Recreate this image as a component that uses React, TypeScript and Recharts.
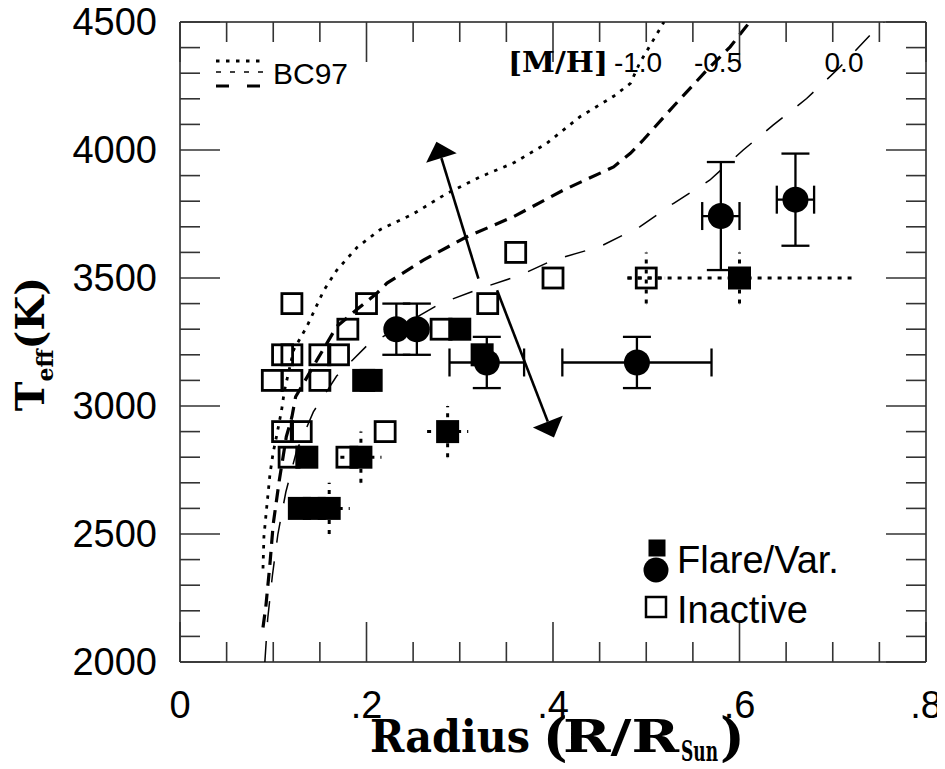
import { ScatterChart, Scatter, XAxis, YAxis, ErrorBar, ReferenceLine } from 'recharts';

// axis ticks
const xTicks = [0, 0.05, 0.1, 0.15, 0.2, 0.25, 0.3, 0.35, 0.4, 0.45, 0.5, 0.55, 0.6, 0.65, 0.7, 0.75, 0.8];
const xMajorTicks = [0, 0.2, 0.4, 0.6, 0.8];
const xTickLabels = ['0', '.2', '.4', '.6', '.8'];
const yTicks = [
  2000, 2100, 2200, 2300, 2400, 2500, 2600, 2700, 2800, 2900, 3000, 3100, 3200,
  3300, 3400, 3500, 3600, 3700, 3800, 3900, 4000, 4100, 4200, 4300, 4400, 4500,
];
const yMajorTicks = [2000, 2500, 3000, 3500, 4000, 4500];
const yTickLabels = ['2000', '2500', '3000', '3500', '4000', '4500'];

// BC97 isochrones, [M/H] = -1.0, -0.5, 0.0
const bc97Minus10 = [
  { x: 0.089, y: 2365 }, { x: 0.09, y: 2490 }, { x: 0.093, y: 2605 }, { x: 0.0965, y: 2735 },
  { x: 0.1, y: 2820 }, { x: 0.104, y: 2890 }, { x: 0.109, y: 2985 }, { x: 0.112, y: 3060 },
  { x: 0.122, y: 3220 }, { x: 0.136, y: 3310 }, { x: 0.154, y: 3450 }, { x: 0.168, y: 3530 },
  { x: 0.19, y: 3620 }, { x: 0.215, y: 3690 }, { x: 0.25, y: 3750 }, { x: 0.286, y: 3830 },
  { x: 0.322, y: 3895 }, { x: 0.358, y: 3950 }, { x: 0.393, y: 4025 }, { x: 0.429, y: 4130 },
  { x: 0.465, y: 4210 }, { x: 0.483, y: 4260 }, { x: 0.493, y: 4340 }, { x: 0.519, y: 4500 },
];
const bc97Minus05 = [
  { x: 0.089, y: 2135 }, { x: 0.092, y: 2215 }, { x: 0.0965, y: 2385 }, { x: 0.1, y: 2540 },
  { x: 0.1065, y: 2710 }, { x: 0.114, y: 2880 }, { x: 0.12, y: 2957 }, { x: 0.124, y: 3036 },
  { x: 0.147, y: 3180 }, { x: 0.168, y: 3310 }, { x: 0.189, y: 3375 }, { x: 0.211, y: 3440 },
  { x: 0.222, y: 3480 }, { x: 0.261, y: 3570 }, { x: 0.307, y: 3660 }, { x: 0.358, y: 3740 },
  { x: 0.411, y: 3843 }, { x: 0.465, y: 3934 }, { x: 0.483, y: 3987 }, { x: 0.497, y: 4040 },
  { x: 0.529, y: 4170 }, { x: 0.565, y: 4312 }, { x: 0.59, y: 4403 }, { x: 0.611, y: 4500 },
];
const bc97Solar = [
  { x: 0.091, y: 2000 }, { x: 0.094, y: 2167 }, { x: 0.099, y: 2335 }, { x: 0.105, y: 2500 },
  { x: 0.1135, y: 2664 }, { x: 0.125, y: 2824 }, { x: 0.143, y: 2977 }, { x: 0.168, y: 3117 },
  { x: 0.2, y: 3234 }, { x: 0.279, y: 3400 }, { x: 0.322, y: 3459 }, { x: 0.365, y: 3511 },
  { x: 0.4, y: 3570 }, { x: 0.45, y: 3622 }, { x: 0.493, y: 3700 }, { x: 0.529, y: 3791 },
  { x: 0.568, y: 3882 }, { x: 0.604, y: 4000 }, { x: 0.636, y: 4097 }, { x: 0.672, y: 4201 },
  { x: 0.708, y: 4325 }, { x: 0.74, y: 4449 }, { x: 0.755, y: 4500 },
];

// stars
const inactive = [
  { x: 0.12, y: 3400 }, { x: 0.2, y: 3400 }, { x: 0.33, y: 3400 }, { x: 0.36, y: 3600 },
  { x: 0.4, y: 3500 }, { x: 0.18, y: 3300 }, { x: 0.28, y: 3300 },
  { x: 0.11, y: 3200 }, { x: 0.12, y: 3200 }, { x: 0.15, y: 3200 }, { x: 0.17, y: 3200 },
  { x: 0.099, y: 3100 }, { x: 0.12, y: 3100 }, { x: 0.15, y: 3100 },
  { x: 0.11, y: 2900 }, { x: 0.13, y: 2900 }, { x: 0.22, y: 2900 },
  { x: 0.117, y: 2800 }, { x: 0.179, y: 2800 },
];
const inactiveWithErr = [{ x: 0.5, y: 3500, ex: 0.02, ey: 100 }];
const flareSquares = [
  { x: 0.3, y: 3300 }, { x: 0.197, y: 3100 }, { x: 0.205, y: 3100 }, { x: 0.324, y: 3200 },
  { x: 0.136, y: 2800 }, { x: 0.128, y: 2600 }, { x: 0.144, y: 2600 },
];
const flareSquaresWithErr = [
  { x: 0.287, y: 2900, ex: 0.022, ey: 100 },
  { x: 0.194, y: 2800, ex: 0.022, ey: 100 },
  { x: 0.16, y: 2600, ex: 0.022, ey: 100 },
  { x: 0.6, y: 3500, ex: 0.12, ey: 100 },
];
const flareCirclesYErr = [
  { x: 0.232, y: 3300, ey: 100 },
  { x: 0.254, y: 3300, ey: 100 },
];
const flareCircles = [
  { x: 0.329, y: 3170, ex: 0.04, ey: 100 },
  { x: 0.49, y: 3170, ex: 0.08, ey: 100 },
  { x: 0.58, y: 3742, ex: 0.02, ey: 211 },
  { x: 0.66, y: 3806, ex: 0.02, ey: 180 },
];

const arrows = [
  { from: { x: 0.32, y: 3498 }, to: { x: 0.275, y: 4032 } },
  { from: { x: 0.34, y: 3452 }, to: { x: 0.401, y: 2877 } },
];

const SANS = '"Liberation Sans", Arial, Helvetica, sans-serif';
const SERIF = '"DejaVu Serif", "Liberation Serif", serif';
const TICK = '#333';

const findMajor = (list: number[], v: number) => list.findIndex((m) => Math.abs(m - v) < 1e-6);

function BottomTick({ x, y, payload }: any) {
  const i = findMajor(xMajorTicks, payload.value);
  return (
    <g>
      <line x1={x} x2={x} y1={y} y2={y - (i >= 0 ? 40 : 20)} stroke={TICK} strokeWidth={1.6} />
      {i >= 0 && (
        <text x={x} y={y + 56} textAnchor="middle" fontSize={38} fontFamily={SANS} fill="#000">
          {xTickLabels[i]}
        </text>
      )}
    </g>
  );
}

function TopTick({ x, y, payload }: any) {
  const i = findMajor(xMajorTicks, payload.value);
  return <line x1={x} x2={x} y1={y} y2={y + (i >= 0 ? 40 : 20)} stroke={TICK} strokeWidth={1.6} />;
}

function LeftTick({ x, y, payload }: any) {
  const i = findMajor(yMajorTicks, payload.value);
  return (
    <g>
      <line x1={x} x2={x + (i >= 0 ? 40 : 20)} y1={y} y2={y} stroke={TICK} strokeWidth={1.6} />
      {i >= 0 && (
        <text x={x - 23} y={y + 13} textAnchor="end" fontSize={38} fontFamily={SANS} fill="#000">
          {yTickLabels[i]}
        </text>
      )}
    </g>
  );
}

function RightTick({ x, y, payload }: any) {
  const i = findMajor(yMajorTicks, payload.value);
  return <line x1={x} x2={x - (i >= 0 ? 40 : 20)} y1={y} y2={y} stroke={TICK} strokeWidth={1.6} />;
}

const OpenSquare = (p: any) => (
  <rect x={p.cx - 10} y={p.cy - 10} width={20} height={20} fill="none" stroke="#000" strokeWidth={2.8} />
);
const FilledSquare = (p: any) => <rect x={p.cx - 11.5} y={p.cy - 11.5} width={23} height={23} fill="#000" />;
const FilledCircle = (p: any) => <circle cx={p.cx} cy={p.cy} r={13} fill="#000" />;
const NoShape = () => <g />;

function ArrowShape({ x1, y1, x2, y2 }: any) {
  const len = Math.hypot(x2 - x1, y2 - y1);
  const ux = (x2 - x1) / len;
  const uy = (y2 - y1) / len;
  const bx = x2 - ux * 17;
  const by = y2 - uy * 17;
  const hw = 16;
  return (
    <g>
      <line x1={x1} y1={y1} x2={bx} y2={by} stroke="#000" strokeWidth={2.6} />
      <polygon points={`${x2},${y2} ${bx - uy * hw},${by + ux * hw} ${bx + uy * hw},${by - ux * hw}`} fill="#000" />
    </g>
  );
}

const axisLine = { stroke: '#555', strokeWidth: 2 };

export default function App() {
  return (
    <div style={{ position: 'relative', width: 937, height: 755 }}>
      <ScatterChart width={937} height={755} margin={{ top: 10, right: 15, bottom: 11, left: 62 }}>
        <XAxis
          type="number" dataKey="x" domain={[0, 0.8]} ticks={xTicks} interval={0}
          tickSize={0} tickMargin={0} tickLine={false} tick={(p: any) => <BottomTick {...p} />}
          axisLine={axisLine} height={90} allowDataOverflow
        />
        <XAxis
          xAxisId="top" orientation="top" type="number" dataKey="x" domain={[0, 0.8]} ticks={xTicks}
          interval={0} tickSize={0} tickMargin={0} tickLine={false} tick={(p: any) => <TopTick {...p} />}
          axisLine={axisLine} height={4} allowDataOverflow
        />
        <YAxis
          type="number" dataKey="y" domain={[2000, 4500]} ticks={yTicks} interval={0}
          tickSize={0} tickMargin={0} tickLine={false} tick={(p: any) => <LeftTick {...p} />}
          axisLine={axisLine} width={110} allowDataOverflow
        />
        <YAxis
          yAxisId="right" orientation="right" type="number" dataKey="y" domain={[2000, 4500]} ticks={yTicks}
          interval={0} tickSize={0} tickMargin={0} tickLine={false} tick={(p: any) => <RightTick {...p} />}
          axisLine={axisLine} width={4} allowDataOverflow
        />

        <Scatter data={bc97Minus10} shape={NoShape} isAnimationActive={false}
          line={{ stroke: '#000', strokeWidth: 2.8, strokeDasharray: '3.5 6.5' }} />
        <Scatter data={bc97Minus05} shape={NoShape} isAnimationActive={false}
          line={{ stroke: '#000', strokeWidth: 3.2, strokeDasharray: '13 8' }} />
        <Scatter data={bc97Solar} shape={NoShape} isAnimationActive={false}
          line={{ stroke: '#000', strokeWidth: 1.5, strokeDasharray: '21 19' }} />

        <Scatter data={inactive} shape={OpenSquare} isAnimationActive={false} />
        <Scatter data={inactiveWithErr} shape={OpenSquare} isAnimationActive={false}>
          <ErrorBar dataKey="ex" direction="x" width={0} stroke="#000" strokeWidth={3} strokeDasharray="4 6" isAnimationActive={false} />
          <ErrorBar dataKey="ey" direction="y" width={0} stroke="#000" strokeWidth={3} strokeDasharray="4 6" isAnimationActive={false} />
        </Scatter>
        <Scatter data={flareSquares} shape={FilledSquare} isAnimationActive={false} />
        <Scatter data={flareSquaresWithErr} shape={FilledSquare} isAnimationActive={false}>
          <ErrorBar dataKey="ex" direction="x" width={0} stroke="#000" strokeWidth={3} strokeDasharray="4 6" isAnimationActive={false} />
          <ErrorBar dataKey="ey" direction="y" width={0} stroke="#000" strokeWidth={3} strokeDasharray="4 6" isAnimationActive={false} />
        </Scatter>
        <Scatter data={flareCirclesYErr} shape={FilledCircle} isAnimationActive={false}>
          <ErrorBar dataKey="ey" direction="y" width={14} stroke="#000" strokeWidth={2.3} isAnimationActive={false} />
        </Scatter>
        <Scatter data={flareCircles} shape={FilledCircle} isAnimationActive={false}>
          <ErrorBar dataKey="ex" direction="x" width={14} stroke="#000" strokeWidth={2.3} isAnimationActive={false} />
          <ErrorBar dataKey="ey" direction="y" width={14} stroke="#000" strokeWidth={2.3} isAnimationActive={false} />
        </Scatter>

        {arrows.map((a, i) => (
          <ReferenceLine key={i} segment={[a.from, a.to]} shape={ArrowShape} ifOverflow="visible" />
        ))}
      </ScatterChart>

      <svg width={937} height={761} style={{ position: 'absolute', left: 0, top: 0, pointerEvents: 'none', overflow: 'visible' }}>
        <g transform="translate(-8,-8)">
          {/* BC97 line key */}
          <line x1={216} x2={263} y1={61} y2={61} stroke="#000" strokeWidth={2.8} strokeDasharray="3.5 6.5" />
          <line x1={216} x2={263} y1={72} y2={72} stroke="#000" strokeWidth={1.5} strokeDasharray="5 9" />
          <line x1={216} x2={263} y1={86} y2={86} stroke="#000" strokeWidth={3.2} strokeDasharray="13 18" />
          <text x={273} y={84} fontSize={30} fontFamily={SANS}>BC97</text>

          {/* metallicity labels */}
          <text x={508} y={72} fontSize={27} fontWeight="bold" fontFamily={SERIF} textLength={100} lengthAdjust="spacingAndGlyphs">[M/H]</text>
          <text x={638} y={72} fontSize={28} fontFamily={SANS} textAnchor="middle">-1.0</text>
          <text x={718} y={72} fontSize={28} fontFamily={SANS} textAnchor="middle">-0.5</text>
          <text x={844} y={72} fontSize={28} fontFamily={SANS} textAnchor="middle">0.0</text>

          {/* symbol key */}
          <rect x={648.5} y={539.5} width={17} height={17} fill="#000" />
          <circle cx={656} cy={570} r={12.5} fill="#000" />
          <text x={677} y={573} fontSize={38} fontFamily={SANS}>Flare/Var.</text>
          <rect x={646} y={597} width={20} height={20} fill="none" stroke="#000" strokeWidth={2.5} />
          <text x={677} y={623} fontSize={38} fontFamily={SANS}>Inactive</text>

          {/* axis titles */}
          <text x={370} y={752} fontSize={44} fontWeight="bold" fontFamily={SERIF} textLength={160} lengthAdjust="spacingAndGlyphs">Radius</text>
          <text x={543} y={755} fontSize={52} fontWeight="bold" fontFamily={SERIF}>(</text>
          <text x={563} y={752} fontSize={44} fontWeight="bold" fontFamily={SERIF} textLength={116} lengthAdjust="spacingAndGlyphs">R/R</text>
          <text x={681} y={761} fontSize={27} fontWeight="bold" fontFamily={SERIF} textLength={37} lengthAdjust="spacingAndGlyphs">Sun</text>
          <text x={720} y={755} fontSize={52} fontWeight="bold" fontFamily={SERIF}>)</text>

          <text x={44} y={344} transform="rotate(-90 44 344)" textAnchor="middle" fontWeight="bold" fontFamily={SERIF} fontSize={40}>
            T<tspan fontSize={22} dy={9}>eff</tspan><tspan dy={-9} fontSize={40}>(K)</tspan>
          </text>
        </g>
      </svg>
    </div>
  );
}
